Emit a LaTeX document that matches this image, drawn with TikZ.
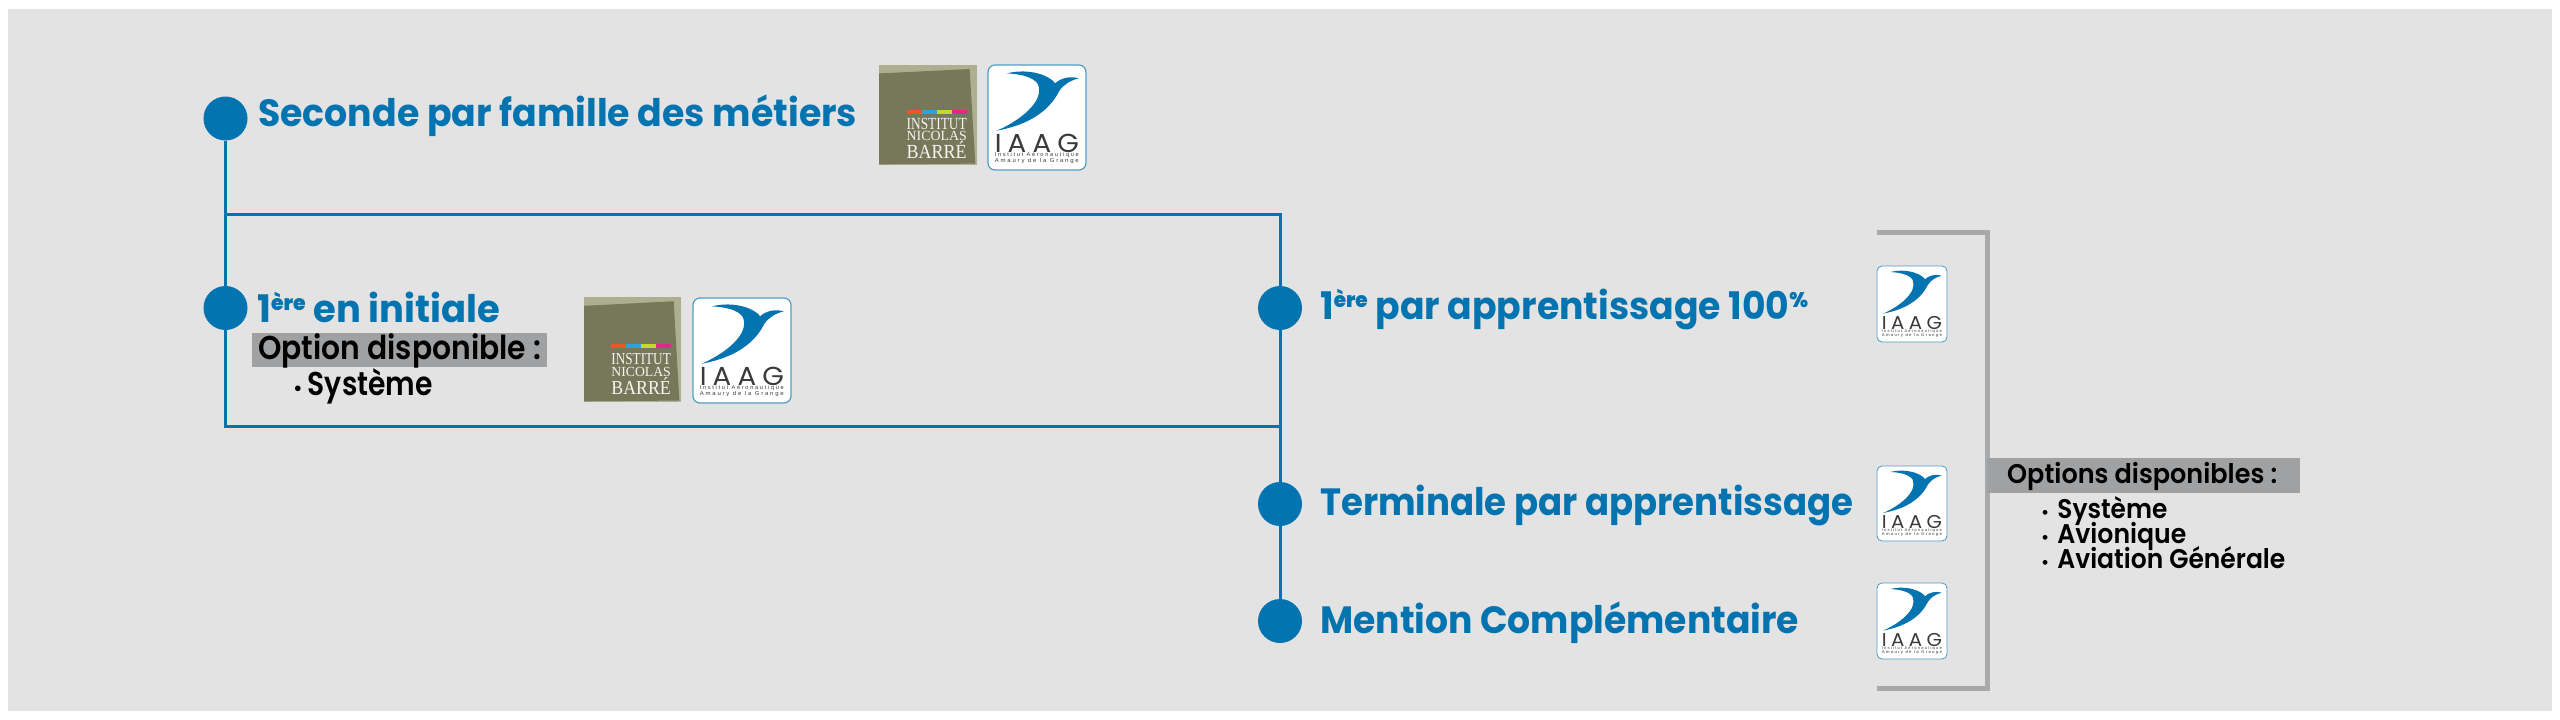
\documentclass[tikz,border=0pt]{standalone}
\usepackage{fontspec}
\usepackage{graphicx}
\setmainfont{Poppins}[BoldFont=* Bold]
\newfontfamily\logofont[LetterSpace=22]{Poppins}
\newfontfamily\logosmall[LetterSpace=30]{Liberation Sans}
\newfontfamily\serifnb{Liberation Serif}
\newfontfamily\semifont{Poppins SemiBold}
\definecolor{blueA}{HTML}{0474B0}
\definecolor{panelbg}{HTML}{E3E3E3}
\definecolor{band}{HTML}{A0A1A3}
\definecolor{brack}{HTML}{A7A9AB}
\definecolor{olive}{HTML}{77785A}
\definecolor{khaki}{HTML}{ADAE92}
\definecolor{logotxt}{HTML}{3A3A3A}
\definecolor{barR}{HTML}{E8562A}
\definecolor{barB}{HTML}{2AA5DC}
\definecolor{barY}{HTML}{C4D92E}
\definecolor{barM}{HTML}{E5258C}
\newcommand\fitw[2]{\resizebox{#1pt}{\height}{#2}}
\newcommand\fs[1]{\fontsize{#1pt}{#1pt}\selectfont}
\newcommand\iaag[5]{% name, x, y, w, h
\begin{scope}[shift={(#2,#3)},x=#4/293*1pt,y=-#5/315*1pt]
 \draw[draw=blueA!70!white,line width=#4/98*1.2pt,fill=white,rounded corners=#4/98*7pt] (0,0) rectangle (293,315);
 \fill[blueA] (56,25) .. controls (126,8) and (186,33) .. (201,55)
   .. controls (215,40) and (245,32) .. (271,40)
   .. controls (245,47) and (227,58) .. (213,78)
   .. controls (180,145) and (110,182) .. (26,197)
   .. controls (90,170) and (172,110) .. (149,57)
   .. controls (135,35) and (95,27) .. (56,25) -- cycle;
 \node[logot,scale=#4/98] (#1a) at (146,236) {\fitw{84}{\logofont\fs{26}IAAG}};
 \node[logot,scale=#4/98] (#1b) at (146,270) {\fitw{84}{\logosmall\fs{5.6}Institut Aéronautique}};
 \node[logot,scale=#4/98] (#1c) at (146,288) {\fitw{84}{\logosmall\fs{5.6}Amaury de la Grange}};
\end{scope}}
\newcommand\inb[5]{% name, x, y, w, h
\begin{scope}[shift={(#2,#3)},x=#4/292*1pt,y=-#5/297*1pt]
 \fill[khaki] (0,0) rectangle (292,297);
 \fill[olive] (0,25) -- (270,12) -- (287,293) -- (0,295) -- cycle;
 \fill[barR] (82,133) rectangle (127,145);
 \fill[barB] (127,133) rectangle (172,145);
 \fill[barY] (172,133) rectangle (217,145);
 \fill[barM] (217,133) rectangle (262,145);
 \node[nbt,scale=#4/98] (#1a) at (172,174) {\fitw{60}{\serifnb\fs{17}INSTITUT}};
 \node[nbt,scale=#4/98] (#1b) at (172,211) {\fitw{60}{\serifnb\fs{14}NICOLAS}};
 \node[nbt,scale=#4/98] (#1c) at (172,252) {\fitw{60}{\serifnb\fs{20}BARRÉ}};
\end{scope}}
\tikzset{
 dot/.style={circle,fill=blueA,draw=none,minimum size=44pt,inner sep=0pt},
 link/.style={draw=blueA,line width=3pt},
 title/.style={anchor=base west,inner sep=0pt,text=blueA,font=\bfseries\fs{38}},
 opt/.style={anchor=base west,inner sep=0pt,text=black},
 bandbox/.style={fill=band,draw=none,inner sep=0pt,anchor=north west},
 logot/.style={inner sep=0pt,text=logotxt},
 nbt/.style={inner sep=0pt,text=white!92!olive},
}
\newcommand\sups[1]{\raisebox{12pt}{\fs{21}\semifont #1}}
\newcommand\bul[1]{{\fs{#1}•}}
\begin{document}
\begin{tikzpicture}[x=1pt,y=-1pt]
\useasboundingbox (0,0) rectangle (2560,720);
\fill[white] (0,0) rectangle (2560,720);
\fill[panelbg] (8,9) rectangle (2552,711);

\node[dot] (n1) at (225.5,118.5) {};
\node[dot] (n2) at (225.5,308) {};
\node[dot] (n3) at (1280,308) {};
\node[dot] (n4) at (1280,504) {};
\node[dot] (n5) at (1280,621) {};
\coordinate (t1) at (225.5,214);
\coordinate (t2) at (1280,214);
\coordinate (b1) at (225.5,426);
\coordinate (b2) at (1280,426);
\draw[link] (n1) -- (n2);
\draw[link] (t1) -- (t2) -- (n3);
\draw[link] (n2) -- (b1) -- (b2);
\draw[link] (n3) -- (n4);
\draw[link] (n4) -- (n5);

\node[title] (tA) at (258,126) {\fitw{599}{Seconde par famille des métiers}};
\node[title] (tB) at (257,322) {\fitw{243}{1\sups{ère} en initiale}};
\node[title] (tC) at (1320,319) {\fitw{488}{1\sups{ère} par apprentissage 100\sups{\%}}};
\node[title] (tD) at (1320,515) {\fitw{533}{Terminale par apprentissage}};
\node[title] (tE) at (1320,633) {\fitw{479}{Mention Complémentaire}};

\node[bandbox,minimum width=295pt,minimum height=34pt] (bandA) at (252,333) {};
\node[opt] (optA) at (258,359.5) {\fitw{283}{\semifont\fs{33}Option disponible :}};
\node[opt] (optAb) at (293,395.5) {\semifont\fs{33}\bul{20}\hspace{5pt}\fitw{125}{Système}};

\iaag{logoA}{988}{65}{98}{105}
\inb{schoolA}{879}{65}{98}{100}
\inb{schoolB}{584}{297}{97}{105}
\iaag{logoB}{693}{298}{98}{105}
\iaag{logoC}{1877}{266}{70}{76}
\iaag{logoD}{1877}{466}{70}{75}
\iaag{logoE}{1877}{583}{70}{76}

\coordinate (k1) at (1877,232);
\coordinate (k2) at (1987,232);
\coordinate (k3) at (1987,688);
\coordinate (k4) at (1877,688);
\draw[brack,line width=5pt,line join=miter] (k1) -- (k2) -- (k3) -- (k4);

\node[bandbox,minimum width=313pt,minimum height=35pt] (bandB) at (1987,458) {};
\node[opt] (optB) at (2007,483.5) {\fitw{270}{\semifont\fs{27}Options disponibles :}};
\node[opt] (i1) at (2041,518) {\semifont\fs{27}\bul{17}\hspace{8pt}\fitw{110}{Système}};
\node[opt] (i2) at (2041,543) {\semifont\fs{27}\bul{17}\hspace{8pt}\fitw{129}{Avionique}};
\node[opt] (i3) at (2041,568) {\semifont\fs{27}\bul{17}\hspace{8pt}\fitw{228}{Aviation Générale}};
\end{tikzpicture}
\end{document}
